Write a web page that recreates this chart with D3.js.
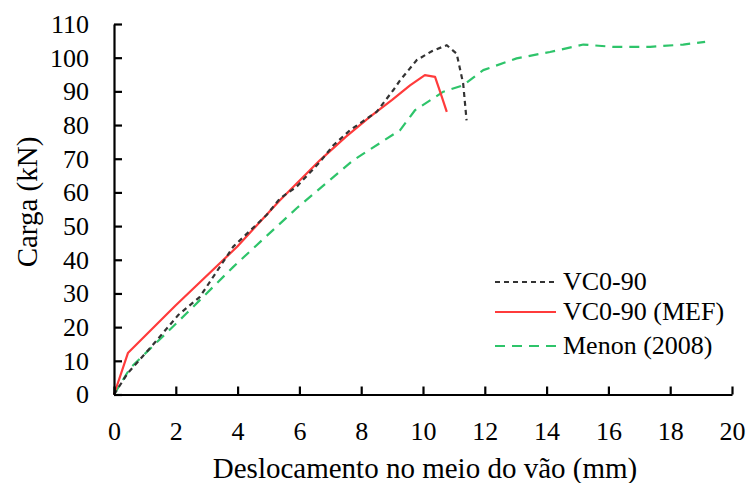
<!DOCTYPE html>
<html>
<head>
<meta charset="utf-8">
<script src="https://cdn.jsdelivr.net/npm/d3@7"></script>
<style>
  body { margin: 0; background: #fff; }
</style>
</head>
<body>
<svg id="chart" width="751" height="483" style="font-family:'Liberation Serif'"></svg>
<script>
'use strict';

// x ticks / y ticks
const xTicks = [0, 2, 4, 6, 8, 10, 12, 14, 16, 18, 20];
const yTicks = [0, 10, 20, 30, 40, 50, 60, 70, 80, 90, 100, 110];

// VC0-90 (experimental, dotted black)
const vcX = [0, 0.45, 1.17, 2.08, 2.78, 3.86, 4.94, 5.37, 5.91, 6.67, 7.1, 7.64, 8.5, 9.04, 9.26, 9.8, 10.3, 10.77, 11.09, 11.3, 11.41];
const vcY = [0, 6.4, 13.8, 23.6, 29, 43.9, 53.3, 58.2, 61.7, 69.1, 74, 78.5, 83.9, 90.4, 93.3, 99.3, 102, 103.7, 101.2, 92.3, 81.4];

// VC0-90 (MEF), solid red
const mefX = [0, 0.45, 2, 4, 5.37, 6.67, 7.5, 8.28, 9.0, 9.58, 10.06, 10.39, 10.55, 10.77];
const mefY = [0, 12.3, 26.5, 44, 57.7, 69.6, 76.5, 82.4, 87.5, 91.8, 94.8, 94.3, 90, 83.9];

// Menon (2008), dashed green
const menX = [0, 0.52, 2.35, 3.86, 5.91, 7.75, 9.26, 9.74, 10.66, 11.3, 11.95, 13.03, 14.11, 15.19, 16.16, 17.35, 18.42, 19.13];
const menY = [0, 7.8, 24.1, 37.9, 55.3, 69.6, 78.5, 84.4, 89.9, 91.8, 96.3, 99.8, 101.7, 103.9, 103.2, 103.2, 103.9, 104.7];

const seriesNames = ["VC0-90", "VC0-90 (MEF)", "Menon (2008)"];
const seriesColors = ["#333333", "#ff3b3b", "#2ec46a"];
const seriesDash = ["5,4", null, "10,7"];

const FONT = "'Liberation Serif'";

{ // start scope

const svg = d3.select("#chart");
const plotLeft = 114, plotRight = 732, plotTop = 24, plotBottom = 394.5;

const x = d3.scaleLinear().domain([0, 20]).range([plotLeft, plotRight]);
const y = d3.scaleLinear().domain([0, 110]).range([plotBottom, plotTop]);

const zip = (xs, ys) => xs.map((v, i) => [v, ys[i]]);
const allSeries = [zip(vcX, vcY), zip(mefX, mefY), zip(menX, menY)];

const line = d3.line()
    .x(d => x(d[0]))
    .y(d => y(d[1]));

// draw series: green first, then red, then black on top
[2, 1, 0].forEach(i => {
    svg.append("path")
        .datum(allSeries[i])
        .attr("fill", "none")
        .attr("stroke", seriesColors[i])
        .attr("stroke-width", 2.2)
        .attr("stroke-linejoin", "round")
        .attr("stroke-dasharray", seriesDash[i])
        .attr("d", line);
});

// axes, ticks pointing inward
const xAxis = d3.axisBottom(x).tickValues(xTicks).tickSizeInner(-8).tickSizeOuter(0).tickPadding(27);
const yAxis = d3.axisLeft(y).tickValues(yTicks).tickSizeInner(-8).tickSizeOuter(0).tickPadding(25);

const gx = svg.append("g").attr("transform", `translate(0,${plotBottom})`).call(xAxis);
const gy = svg.append("g").attr("transform", `translate(${plotLeft},0)`).call(yAxis);

[gx, gy].forEach(g => {
    g.attr("font-family", FONT).attr("font-size", 26);
    g.select(".domain").attr("stroke", "#000").attr("stroke-width", 2.2);
    g.selectAll(".tick line").attr("stroke", "#000").attr("stroke-width", 2.2);
    g.selectAll(".tick text")
        .style("font-family", FONT)
        .style("font-size", "26px")
        .attr("fill", "#000");
});

// axis titles
svg.append("text")
    .attr("x", 425)
    .attr("y", 478)
    .attr("text-anchor", "middle")
    .style("font-family", FONT)
    .style("font-size", "29px")
    .text("Deslocamento no meio do vão (mm)");

svg.append("text")
    .attr("transform", "translate(37,202) rotate(-90)")
    .attr("text-anchor", "middle")
    .style("font-family", FONT)
    .style("font-size", "29px")
    .text("Carga (kN)");

// legend
const legendRows = [282, 312, 346];
seriesNames.forEach((name, i) => {
    svg.append("line")
        .attr("x1", 495).attr("x2", 556)
        .attr("y1", legendRows[i]).attr("y2", legendRows[i])
        .attr("stroke", seriesColors[i])
        .attr("stroke-width", 2.2)
        .attr("stroke-dasharray", seriesDash[i]);
    svg.append("text")
        .attr("x", 563)
        .attr("y", legendRows[i] + 8)
        .style("font-family", FONT)
        .style("font-size", "26px")
        .text(name);
});

} // end scope
</script>
</body>
</html>
